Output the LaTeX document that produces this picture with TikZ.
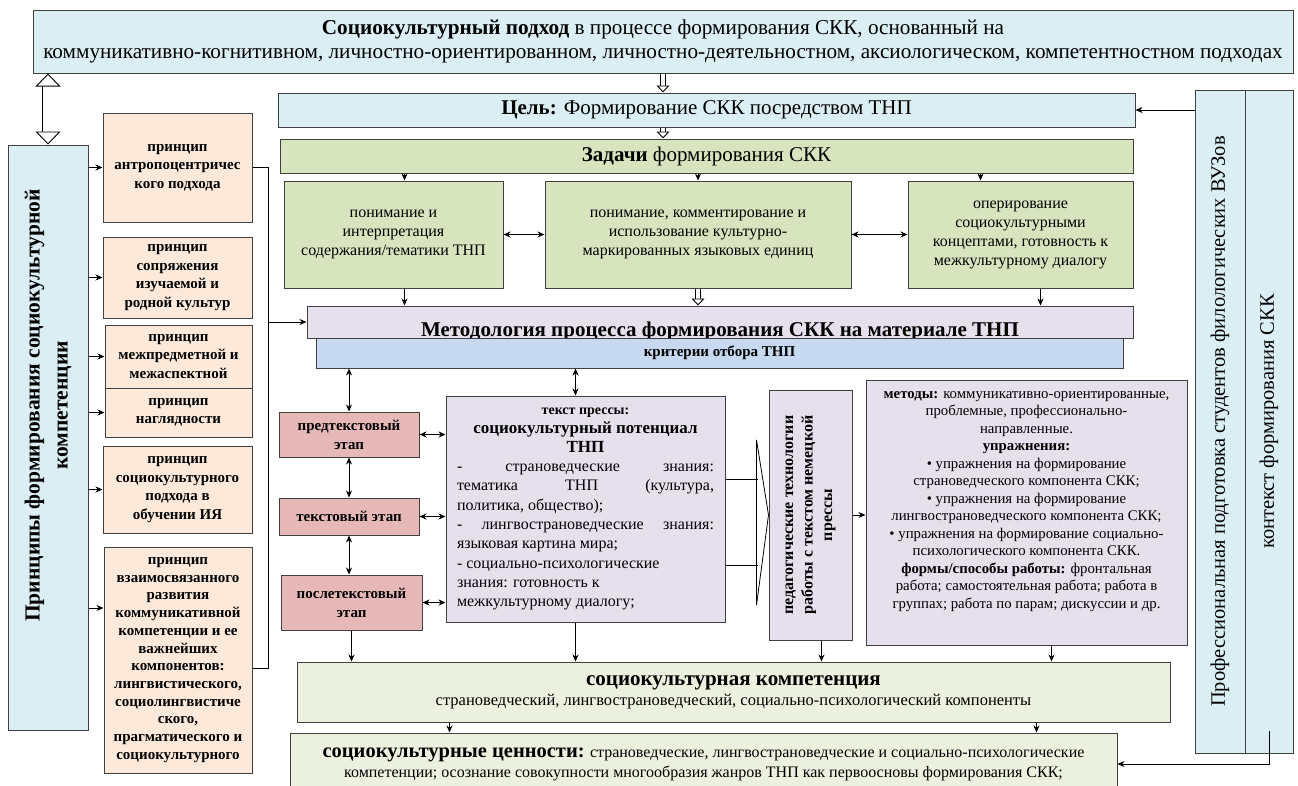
\documentclass[tikz,border=0pt]{standalone}
\usepackage{fontspec}
\setmainfont{Liberation Serif}
\usetikzlibrary{arrows,arrows.meta}

\definecolor{skyc}{HTML}{DBEEF4}
\definecolor{leafc}{HTML}{D7E4BD}
\definecolor{peachc}{HTML}{FDE9D9}
\definecolor{lilacc}{HTML}{E5E0EC}
\definecolor{critc}{HTML}{C6D9F1}
\definecolor{rosec}{HTML}{E6B9B8}
\definecolor{palec}{HTML}{EBF1DE}
\newcommand{\fsz}[2]{\fontsize{#1}{#2}\selectfont}

\begin{document}
\begin{tikzpicture}[x=1pt, y=-1pt, line width=0.8pt, >={Stealth[length=7pt,width=6pt]},
    main/.style = {draw=black!75, line width=1pt, align=center, inner sep=2pt},
    sky/.style = {main, fill=skyc},
    leaf/.style = {main, fill=leafc, font=\fsz{16}{19}},
    peach/.style = {main, fill=peachc, font=\fsz{15}{18.5}\bfseries},
    lilac/.style = {main, fill=lilacc},
    rose/.style = {main, fill=rosec, font=\fsz{15}{19}\bfseries},
    pale/.style = {main, fill=palec},
    hollow/.style = {double, double distance=4pt, line width=0.9pt, -{Triangle[fill=white, length=7pt, width=13pt]}},
    bigarrow/.style = {double, double distance=11pt, line width=0.9pt, {Triangle[fill=white, length=13pt, width=25pt]}-{Triangle[fill=white, length=13pt, width=25pt]}}]
    \useasboundingbox (0,0) rectangle (1298,785);

    % Nodes
    \node[sky, minimum width=1260, minimum height=63, font=\fsz{21.2}{24}] (1) at (663,41.5) {\textbf{Социокультурный подход} в процессе формирования СКК, основанный на\\ коммуникативно-когнитивном, личностно-ориентированном, личностно-деятельностном, аксиологическом, компетентностном подходах};
    \node[sky, minimum width=857, minimum height=34, font=\fsz{21}{24}] (2) at (706.5,110) {\textbf{Цель:} Формирование СКК посредством ТНП};
    \node[leaf, minimum width=853, minimum height=34, font=\fsz{21}{24}] (3) at (706.5,156) {\textbf{Задачи} формирования СКК};
    \node[leaf, minimum width=219, minimum height=107] (4) at (393.5,234.5) {понимание и\\ интерпретация\\ содержания/тематики ТНП};
    \node[leaf, minimum width=306, minimum height=107] (5) at (698,234.5) {понимание, комментирование и\\ использование культурно-\\ маркированных языковых единиц};
    \node[leaf, minimum width=225, minimum height=107] (6) at (1020.5,234.5) {оперирование\\ социокультурными\\ концептами, готовность к\\ межкультурному диалогу};
    \node[lilac, minimum width=826, minimum height=32, font=\fsz{21}{24}\bfseries] (7) at (720,322) {\raisebox{-14pt}[0pt][0pt]{Методология процесса формирования СКК на материале ТНП}};
    \node[main, fill=critc, minimum width=807, minimum height=30, font=\fsz{15}{16}\bfseries] (8) at (719.5,353) {критерии отбора ТНП};

    \node[sky, minimum width=80, minimum height=585, label={[yshift=32pt, rotate=90, align=center, font=\fsz{21.5}{28}\bfseries]center:Принципы формирования социокультурной\\ компетенции}] (9) at (48,437.5) {};
    \node[peach, minimum width=149, minimum height=109] (10) at (177.5,167.5) {принцип\\ антропоцентричес\\ кого подхода};
    \node[peach, minimum width=149, minimum height=81] (11) at (177.5,277.5) {принцип\\ сопряжения\\ изучаемой и\\ родной культур};
    \node[peach, minimum width=147, minimum height=63] (12) at (178.5,356.5) {принцип\\ межпредметной и\\ межаспектной};
    \node[peach, minimum width=147, minimum height=49] (13) at (178.5,412.5) {принцип\\ наглядности};
    \node[peach, minimum width=149, minimum height=87] (14) at (177.5,489.5) {принцип\\ социокультурного\\ подхода в\\ обучении ИЯ};
    \node[peach, minimum width=148, minimum height=226, font=\fsz{15}{17.7}\bfseries] (15) at (178,660) {принцип\\ взаимосвязанного\\ развития\\ коммуникативной\\ компетенции и ее\\ важнейших\\ компонентов:\\ лингвистического,\\ социолингвистиче\\ ского,\\ прагматического и\\ социокультурного};

    \node[rose, minimum width=140, minimum height=45] (16) at (349,434.5) {предтекстовый\\ этап};
    \node[rose, minimum width=140, minimum height=37] (17) at (349,516.5) {текстовый этап};
    \node[rose, minimum width=141, minimum height=55] (18) at (351.5,602.5) {послетекстовый\\ этап};
    \node[lilac, minimum width=279, minimum height=226, text width=257, align=justify, font=\fsz{16}{19.3}] (19) at (585.5,509) {{\centering\fsz{14}{17}\bfseries текст прессы:\\ \fsz{17}{19}социокультурный потенциал\\ ТНП\par}- страноведческие знания:\linebreak тематика ТНП (культура,\linebreak политика, общество);\\ - лингвострановедческие знания:\linebreak языковая картина мира;\\ - социально-психологические\\ знания: готовность к\\ межкультурному диалогу;};
    \node[lilac, minimum width=83, minimum height=250, label={[rotate=90, align=center, font=\fsz{16}{19.5}\bfseries]center:педагогические технологии\\ работы с текстом немецкой\\ прессы}] (20) at (810.5,515) {};
    \node[lilac, minimum width=321, minimum height=265, label={[yshift=11pt, align=center, font=\fsz{14.8}{17.5}]center:\textbf{методы:} коммуникативно-ориентированные,\\ проблемные, профессионально-\\ направленные.\\ \textbf{упражнения:}\\ • упражнения на формирование\\ страноведческого компонента СКК;\\ • упражнения на формирование\\ лингвострановедческого компонента СКК;\\ • упражнения на формирование социально-\\ психологического компонента СКК.\\ \textbf{формы/способы работы:} фронтальная\\ работа; самостоятельная работа; работа в\\ группах; работа по парам; дискуссии и др.}] (21) at (1026.5,512.5) {};

    \node[pale, minimum width=873, minimum height=60, font=\fsz{16.5}{20}] (22) at (733.5,692) {{\fsz{21}{20}\bfseries социокультурная компетенция}\\ страноведческий, лингвострановедческий, социально-психологический компоненты};
    \node[pale, minimum width=827, minimum height=62, font=\fsz{16}{20}] (23) at (703.5,764) {{\fsz{20.5}{20}\bfseries социокультурные ценности:} страноведческие, лингвострановедческие и социально-психологические\\ компетенции; осознание совокупности многообразия жанров ТНП как первоосновы формирования СКК;};

    \node[sky, minimum width=50, minimum height=663, label={[rotate=90, font=\fsz{20.5}{24}]center:Профессиональная подготовка студентов филологических ВУЗов}] (24) at (1220,421.5) {};
    \node[sky, minimum width=48, minimum height=663, label={[rotate=90, font=\fsz{20.5}{24}]center:контекст формирования СКК}] (25) at (1269,421.5) {};

    % Lines
    \draw[bigarrow] (1.south -| 9.north) -- (9.north);
    \draw[hollow] (1.south) -- (1.south |- 2.north);
    \draw[hollow] (2.south -| 1.south) -- (1.south |- 3.north);
    \draw[->] (24.west |- 2.east) -- (2.east);

    \draw[->] ([xshift=11pt]4.north |- 3.south) -- ([xshift=11pt]4.north);
    \draw[->] (5.north |- 3.south) -- (5.north);
    \draw[->] ([xshift=-40pt]6.north |- 3.south) -- ([xshift=-40pt]6.north);
    \draw[<->] (4.east) -- (5.west);
    \draw[<->] (5.east) -- (6.west);
    \draw[->] ([xshift=11pt]4.south) -- ([xshift=11pt]4.south |- 7.north);
    \draw[hollow] (5.south) -- (5.south |- 7.north);
    \draw[->] ([xshift=20pt]6.south) -- ([xshift=20pt]6.south |- 7.north);

    \draw[->] (9.east |- 10.west) -- (10.west);
    \draw[->] (9.east |- 11.west) -- (11.west);
    \draw[->] (9.east |- 12.west) -- (12.west);
    \draw[->] (9.east |- 13.west) -- (13.west);
    \draw[->] (9.east |- 14.west) -- (14.west);
    \draw[->] ([yshift=52pt]15.west -| 9.east) -- ([yshift=52pt]15.west);
    \draw (10.east) -- ++(16,0) coordinate (c1) |- ([yshift=-8pt]15.east);
    \draw[->] (c1 |- 7.west) -- (7.west);

    \draw[<->] (8.south -| 16.north) -- (16.north);
    \draw[<->] ([xshift=-10pt]19.north |- 8.south) -- ([xshift=-10pt]19.north);
    \draw[<->] (16.south) -- (16.south |- 17.north);
    \draw[<->] (17.south) -- (17.south |- 18.north);
    \draw[->] (18.south) -- (18.south |- 22.north);
    \draw[<->] (16.east) -- (16.east -| 19.west);
    \draw[<->] (17.east) -- (17.east -| 19.west);
    \draw[<->] (18.east) -- (18.east -| 19.west);
    \draw[->] ([xshift=-10pt]19.south) -- ([xshift=-10pt]19.south |- 22.north);

    \draw ([yshift=30pt]19.east) -- ++(32,0);
    \draw ([yshift=-56pt]19.east) -- ++(32,0);
    \draw (20.west) ++(-12,-75) -- (20.west) -- ++(-12,90) -- cycle;
    \draw[->] (20.east) -- (20.east -| 21.west);
    \draw[->] ([xshift=11pt]20.south) -- ([xshift=11pt]20.south |- 22.north);
    \draw[->] ([xshift=25pt]21.south) -- ([xshift=25pt]21.south |- 22.north);

    \draw[->] ([xshift=-284pt]22.south) -- ([xshift=-284pt]22.south |- 23.north);
    \draw[->] ([xshift=303pt]22.south) -- ([xshift=303pt]22.south |- 23.north);
    \coordinate (c2) at ([yshift=23pt]25.south);
    \draw[->] (c2) |- (23.east);
\end{tikzpicture}
\end{document}
